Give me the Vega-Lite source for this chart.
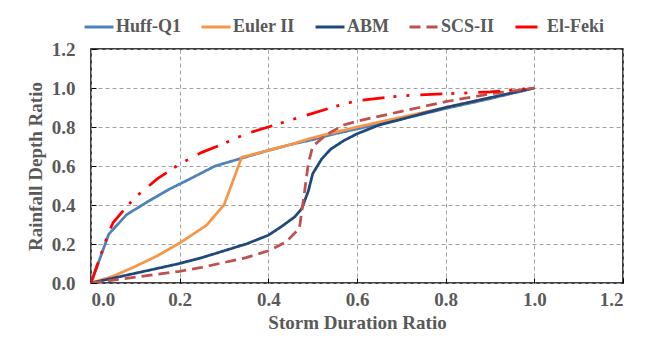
{
  "$schema": "https://vega.github.io/schema/vega-lite/v6.json",
  "autosize": "none",
  "width": 532,
  "height": 234,
  "padding": {"left": 91, "top": 49, "right": 25, "bottom": 57},
  "background": "white",
  "config": {
    "font": "Liberation Serif",
    "view": {"stroke": "black", "strokeWidth": 1.5},
    "axis": {
      "labelFont": "Liberation Serif",
      "labelFontWeight": "bold",
      "labelFontSize": 19,
      "labelColor": "#595959",
      "titleFont": "Liberation Serif",
      "titleFontWeight": "bold",
      "titleFontSize": 19,
      "titleColor": "#595959",
      "domain": false,
      "grid": true,
      "gridColor": "#A0A0A0",
      "gridDash": [4, 3],
      "gridWidth": 1,
      "ticks": true,
      "tickColor": "black",
      "tickSize": -5,
      "tickWidth": 1
    },
    "legend": {
      "labelFont": "Liberation Serif",
      "labelFontWeight": "bold",
      "labelFontSize": 18,
      "labelColor": "#595959"
    }
  },
  "data": {
    "values": [
      {"series": "Huff-Q1", "x": 0, "y": 0},
      {"series": "Huff-Q1", "x": 0.04, "y": 0.25},
      {"series": "Huff-Q1", "x": 0.08, "y": 0.35},
      {"series": "Huff-Q1", "x": 0.13, "y": 0.42},
      {"series": "Huff-Q1", "x": 0.18, "y": 0.485},
      {"series": "Huff-Q1", "x": 0.22, "y": 0.53},
      {"series": "Huff-Q1", "x": 0.28, "y": 0.6},
      {"series": "Huff-Q1", "x": 0.34, "y": 0.64},
      {"series": "Huff-Q1", "x": 0.4, "y": 0.68},
      {"series": "Huff-Q1", "x": 0.45, "y": 0.71},
      {"series": "Huff-Q1", "x": 0.5, "y": 0.735},
      {"series": "Huff-Q1", "x": 0.55, "y": 0.765},
      {"series": "Huff-Q1", "x": 0.6, "y": 0.79},
      {"series": "Huff-Q1", "x": 0.7, "y": 0.84},
      {"series": "Huff-Q1", "x": 0.8, "y": 0.895},
      {"series": "Huff-Q1", "x": 0.9, "y": 0.945},
      {"series": "Huff-Q1", "x": 1, "y": 1},
      {"series": "Euler II", "x": 0, "y": 0},
      {"series": "Euler II", "x": 0.05, "y": 0.035},
      {"series": "Euler II", "x": 0.1, "y": 0.085},
      {"series": "Euler II", "x": 0.15, "y": 0.14},
      {"series": "Euler II", "x": 0.2, "y": 0.205},
      {"series": "Euler II", "x": 0.26, "y": 0.295},
      {"series": "Euler II", "x": 0.3, "y": 0.4},
      {"series": "Euler II", "x": 0.34, "y": 0.645},
      {"series": "Euler II", "x": 0.4, "y": 0.68},
      {"series": "Euler II", "x": 0.45, "y": 0.71},
      {"series": "Euler II", "x": 0.5, "y": 0.745},
      {"series": "Euler II", "x": 0.6, "y": 0.8},
      {"series": "Euler II", "x": 0.7, "y": 0.85},
      {"series": "Euler II", "x": 0.8, "y": 0.9},
      {"series": "Euler II", "x": 0.9, "y": 0.95},
      {"series": "Euler II", "x": 1, "y": 1},
      {"series": "ABM", "x": 0, "y": 0},
      {"series": "ABM", "x": 0.05, "y": 0.025},
      {"series": "ABM", "x": 0.1, "y": 0.05},
      {"series": "ABM", "x": 0.15, "y": 0.075},
      {"series": "ABM", "x": 0.2, "y": 0.1},
      {"series": "ABM", "x": 0.25, "y": 0.13},
      {"series": "ABM", "x": 0.3, "y": 0.165},
      {"series": "ABM", "x": 0.35, "y": 0.2},
      {"series": "ABM", "x": 0.4, "y": 0.245},
      {"series": "ABM", "x": 0.43, "y": 0.29},
      {"series": "ABM", "x": 0.46, "y": 0.34},
      {"series": "ABM", "x": 0.475, "y": 0.38},
      {"series": "ABM", "x": 0.49, "y": 0.47},
      {"series": "ABM", "x": 0.5, "y": 0.56},
      {"series": "ABM", "x": 0.52, "y": 0.635},
      {"series": "ABM", "x": 0.54, "y": 0.685},
      {"series": "ABM", "x": 0.57, "y": 0.73},
      {"series": "ABM", "x": 0.6, "y": 0.765},
      {"series": "ABM", "x": 0.65, "y": 0.81},
      {"series": "ABM", "x": 0.7, "y": 0.84},
      {"series": "ABM", "x": 0.8, "y": 0.9},
      {"series": "ABM", "x": 0.9, "y": 0.95},
      {"series": "ABM", "x": 1, "y": 1},
      {"series": "SCS-II", "x": 0, "y": 0},
      {"series": "SCS-II", "x": 0.1, "y": 0.03},
      {"series": "SCS-II", "x": 0.2, "y": 0.06},
      {"series": "SCS-II", "x": 0.25, "y": 0.08},
      {"series": "SCS-II", "x": 0.3, "y": 0.105},
      {"series": "SCS-II", "x": 0.35, "y": 0.13},
      {"series": "SCS-II", "x": 0.4, "y": 0.165},
      {"series": "SCS-II", "x": 0.44, "y": 0.21},
      {"series": "SCS-II", "x": 0.47, "y": 0.28},
      {"series": "SCS-II", "x": 0.48, "y": 0.44},
      {"series": "SCS-II", "x": 0.49, "y": 0.61},
      {"series": "SCS-II", "x": 0.5, "y": 0.7},
      {"series": "SCS-II", "x": 0.53, "y": 0.76},
      {"series": "SCS-II", "x": 0.57, "y": 0.81},
      {"series": "SCS-II", "x": 0.6, "y": 0.83},
      {"series": "SCS-II", "x": 0.7, "y": 0.88},
      {"series": "SCS-II", "x": 0.8, "y": 0.93},
      {"series": "SCS-II", "x": 0.9, "y": 0.97},
      {"series": "SCS-II", "x": 1, "y": 1},
      {"series": "El-Feki", "x": 0, "y": 0},
      {"series": "El-Feki", "x": 0.02, "y": 0.13},
      {"series": "El-Feki", "x": 0.04, "y": 0.26},
      {"series": "El-Feki", "x": 0.05, "y": 0.31},
      {"series": "El-Feki", "x": 0.08, "y": 0.39},
      {"series": "El-Feki", "x": 0.1, "y": 0.44},
      {"series": "El-Feki", "x": 0.15, "y": 0.535},
      {"series": "El-Feki", "x": 0.2, "y": 0.61},
      {"series": "El-Feki", "x": 0.25, "y": 0.67},
      {"series": "El-Feki", "x": 0.3, "y": 0.715},
      {"series": "El-Feki", "x": 0.35, "y": 0.765},
      {"series": "El-Feki", "x": 0.4, "y": 0.8},
      {"series": "El-Feki", "x": 0.45, "y": 0.835},
      {"series": "El-Feki", "x": 0.5, "y": 0.87},
      {"series": "El-Feki", "x": 0.55, "y": 0.905},
      {"series": "El-Feki", "x": 0.6, "y": 0.935},
      {"series": "El-Feki", "x": 0.7, "y": 0.96},
      {"series": "El-Feki", "x": 0.8, "y": 0.97},
      {"series": "El-Feki", "x": 0.9, "y": 0.98},
      {"series": "El-Feki", "x": 1, "y": 1}
    ]
  },
  "mark": {"type": "line", "strokeWidth": 2.75, "clip": true},
  "encoding": {
    "x": {
      "field": "x",
      "type": "quantitative",
      "scale": {"domain": [0, 1.2], "nice": false},
      "axis": {"values": [0, 0.2, 0.4, 0.6, 0.8, 1, 1.2], "title": "Storm Duration Ratio", "labelPadding": 12, "titlePadding": 4}
    },
    "y": {
      "field": "y",
      "type": "quantitative",
      "scale": {"domain": [0, 1.2], "nice": false},
      "axis": {"values": [0, 0.2, 0.4, 0.6, 0.8, 1, 1.2], "title": "Rainfall Depth Ratio", "labelPadding": 21, "titlePadding": 6}
    },
    "color": {
      "field": "series",
      "type": "nominal",
      "scale": {
        "domain": ["Huff-Q1", "Euler II", "ABM", "SCS-II", "El-Feki"],
        "range": ["#4F81BD", "#F79646", "#1F497D", "#C0504D", "#FF0000"]
      },
      "legend": {
        "title": null,
        "orient": "none",
        "direction": "horizontal",
        "legendX": -8,
        "legendY": -38,
        "symbolType": "stroke",
        "symbolSize": 841,
        "symbolStrokeWidth": 3,
        "labelOffset": 1,
        "columnPadding": 14
      }
    },
    "strokeDash": {
      "field": "series",
      "type": "nominal",
      "scale": {
        "domain": ["Huff-Q1", "Euler II", "ABM", "SCS-II", "El-Feki"],
        "range": [[1, 0], [1, 0], [1, 0], [11, 6], [22, 9, 3, 10, 3, 11]]
      },
      "legend": {
        "title": null,
        "orient": "none",
        "direction": "horizontal",
        "legendX": -8,
        "legendY": -38,
        "symbolType": "stroke",
        "symbolSize": 841,
        "symbolStrokeWidth": 3,
        "labelOffset": 1,
        "columnPadding": 14
      }
    },
    "order": {"field": "x", "type": "quantitative"}
  }
}
